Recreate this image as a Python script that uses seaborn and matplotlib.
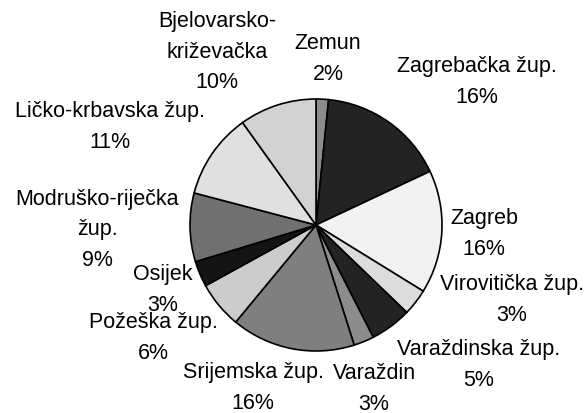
import matplotlib
matplotlib.use("Agg")
import matplotlib.pyplot as plt
import seaborn as sns

sns.set_theme(style="white")
plt.rcParams['font.family'] = ['Liberation Sans', 'DejaVu Sans']

# Data (clockwise from 12 o'clock)
regions = ["Zemun", "Zagrebačka žup.", "Zagreb", "Virovitička žup.",
           "Varaždinska žup.", "Varaždin", "Srijemska žup.", "Požeška žup.",
           "Osijek", "Modruško-riječka\nžup.", "Ličko-krbavska žup.",
           "Bjelovarsko-\nkriževačka"]
shares = [1.6, 16.4, 15.8, 3.4, 5.3, 2.6, 15.9, 6.0, 3.3, 8.8, 11.0, 9.9]
pct_labels = ["2%", "16%", "16%", "3%", "5%", "3%", "16%", "6%", "3%", "9%", "11%", "10%"]

# Styling
colors = ["#8c8c8c", "#232323", "#f2f2f2", "#dcdcdc", "#232323", "#8c8c8c",
          "#7f7f7f", "#cccccc", "#141414", "#707070", "#e0e0e0", "#d2d2d2"]
# label block centres in pixel coordinates (x, y from top)
label_pos = [(328, 59), (477, 82), (484, 234), (512, 300), (479, 365), (374, 389),
             (253, 388), (153, 338), (163, 290), (97, 230), (110, 127), (217, 52)]

W, H = 588, 414
fig = plt.figure(figsize=(W / 100, H / 100), dpi=100)
ax = fig.add_axes([0, 0, 1, 1])
ax.pie(shares, colors=colors, startangle=90, counterclock=False,
       center=(316, H - 226), radius=126,
       wedgeprops=dict(edgecolor="black", linewidth=1.2))
ax.set_xlim(0, W)
ax.set_ylim(0, H)
ax.set_aspect("equal")
ax.axis("off")

for name, pct, (x, y) in zip(regions, pct_labels, label_pos):
    ax.text(x, H - y, f"{name}\n{pct}", ha="center", va="center",
            fontsize=15.5, color="black", linespacing=1.6)

fig.savefig("out.png", dpi=100, facecolor="white")
